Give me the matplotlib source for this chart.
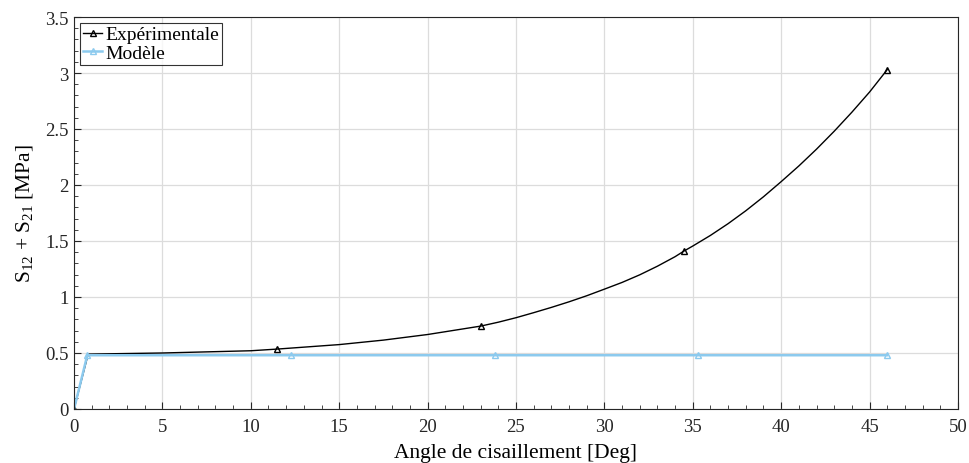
import numpy as np
import matplotlib.pyplot as plt
from matplotlib.ticker import MultipleLocator

plt.rcParams['font.family'] = ['Liberation Serif', 'DejaVu Serif']
plt.rcParams['mathtext.fontset'] = 'custom'
plt.rcParams['mathtext.rm'] = 'Liberation Serif'
plt.rcParams['mathtext.default'] = 'regular'

exp_x = [0, 0.8, 5, 10, 11.5, 15, 17.5, 20, 21, 22, 23, 24, 25, 26, 27, 28,
         29, 30, 31, 32, 33, 34, 34.5, 35, 36, 37, 38, 39, 40, 41, 42, 43,
         44, 45, 46]
exp_y = [0, 0.49, 0.50, 0.52, 0.535, 0.575, 0.615, 0.665, 0.69, 0.715, 0.74,
         0.775, 0.815, 0.86, 0.907, 0.957, 1.011, 1.07, 1.13, 1.198, 1.275,
         1.36, 1.41, 1.455, 1.55, 1.655, 1.77, 1.895, 2.03, 2.17, 2.32, 2.48,
         2.65, 2.83, 3.03]
exp_marks = [exp_x.index(v) for v in (0, 11.5, 23, 34.5, 46)]

# model
mod_x = [0, 0.75, 12.3, 23.8, 35.3, 46]
mod_y = [0, 0.48, 0.48, 0.48, 0.48, 0.48]

fig = plt.figure(figsize=(9.69, 4.64), dpi=100)
ax = fig.add_axes([0.0764, 0.1164, 0.9122, 0.8448])

ax.plot(exp_x, exp_y, color='black', lw=1.0, marker='^', ms=5,
        mfc='none', mew=1.0, markevery=exp_marks, label='Expérimentale')
ax.plot(mod_x, mod_y, color='#8ccaee', lw=1.8, marker='^', ms=5,
        mfc='none', mew=1.0, markevery=[1, 2, 3, 4, 5], label='Modèle')

ax.set_xlim(0, 50)
ax.set_ylim(0, 3.5)
ax.xaxis.set_major_locator(MultipleLocator(5))
ax.xaxis.set_minor_locator(MultipleLocator(1))
ax.yaxis.set_minor_locator(MultipleLocator(0.1))
ax.set_yticks(np.arange(0, 3.51, 0.5))
ax.set_yticklabels(['0', '0.5', '1', '1.5', '2', '2.5', '3', '3.5'])

ax.grid(True, which='major', color='#dcdcdc', lw=0.9)
ax.set_axisbelow(True)
ax.tick_params(which='both', direction='in', top=False, right=False,
               labelsize=13.5, colors='#262626')
ax.tick_params(which='major', length=5)
ax.tick_params(which='minor', length=3)
ax.tick_params(axis='x', pad=6.5)
ax.tick_params(axis='y', pad=4)
for s in ax.spines.values():
    s.set_color('#262626')
    s.set_linewidth(0.8)

ax.set_xlabel('Angle de cisaillement [Deg]', fontsize=15.5, labelpad=6)
ax.set_ylabel('S$_{12}$ + S$_{21}$ [MPa]', fontsize=15.5, labelpad=7)

leg = ax.legend(loc='upper left', fontsize=14, frameon=True, fancybox=False,
                handlelength=1.0, handletextpad=0.15, borderpad=0.15,
                labelspacing=0.05, borderaxespad=0.3)
leg.get_frame().set_edgecolor('black')
leg.get_frame().set_linewidth(0.8)

fig.savefig('out.png', dpi=100)
